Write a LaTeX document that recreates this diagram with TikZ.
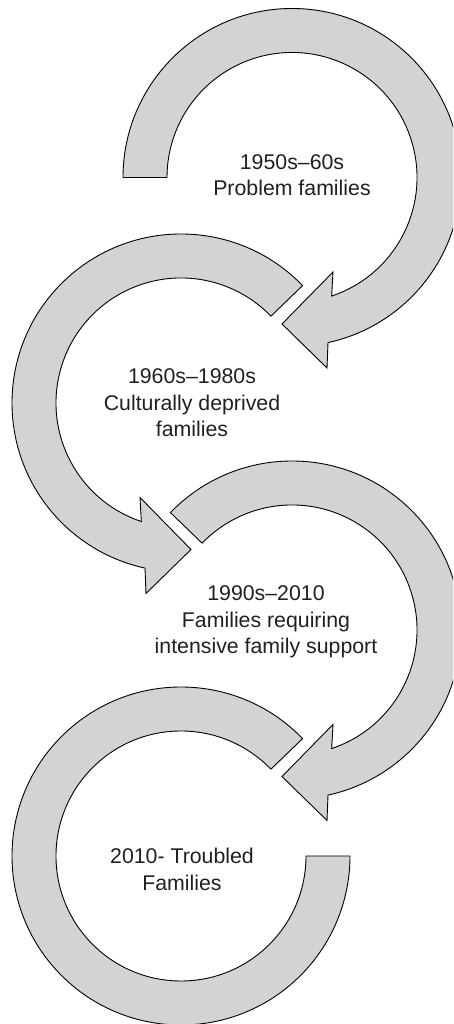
\documentclass[tikz,border=0pt]{standalone}
\usepackage{fontspec}
\setmainfont{Liberation Sans}
\usetikzlibrary{calc}
\definecolor{arrowfill}{RGB}{209,211,212}
\definecolor{txt}{RGB}{35,31,32}
\begin{document}
\begin{tikzpicture}[x=1pt,y=1pt,
  band/.style={fill=arrowfill,draw=black,line width=0.9pt,line join=miter},
  lbl/.style={align=center,font=\fontsize{21.3}{26.5}\selectfont,text=txt,inner sep=0pt}]
\useasboundingbox (0,0) rectangle (453,1024);
\clip (0,0) rectangle (453,1024);
\coordinate (c1) at (292,846.5);
\coordinate (c2) at (181,621);
\coordinate (c3) at (292,394);
\coordinate (c4) at (181,168);
% arc 1
\draw[band] ($(c1)+(180:169pt)$) arc[start angle=180,end angle=-77.7,radius=169pt]
  -- ($(c1)+(35,-190.5)$) -- ($(c1)+(-10,-146.5)$) -- ($(c1)+(41,-94.5)$)
  -- ($(c1)+(-71.5:125pt)$) arc[start angle=-71.5,end angle=180,radius=125pt] -- cycle;
% arc 2
\draw[band] ($(c2)+(44:169pt)$) arc[start angle=44,end angle=257.7,radius=169pt]
  -- ($(c2)+(-35,-190.5)$) -- ($(c2)+(10,-146.5)$) -- ($(c2)+(-41,-94.5)$)
  -- ($(c2)+(251.5:125pt)$) arc[start angle=251.5,end angle=44,radius=125pt] -- cycle;
% arc 3
\draw[band] ($(c3)+(136:169pt)$) arc[start angle=136,end angle=-77.7,radius=169pt]
  -- ($(c3)+(35,-190.5)$) -- ($(c3)+(-10,-146.5)$) -- ($(c3)+(41,-94.5)$)
  -- ($(c3)+(-71.5:125pt)$) arc[start angle=-71.5,end angle=136,radius=125pt] -- cycle;
% arc 4
\draw[band] ($(c4)+(44:169pt)$) arc[start angle=44,end angle=360,radius=169pt]
  -- ($(c4)+(0:125pt)$) arc[start angle=360,end angle=44,radius=125pt] -- cycle;
\node[lbl] (t1) at ($(c1)+(0,2.5)$) {1950s–60s\\Problem families};
\node[lbl] (t2) at ($(c2)+(11,0)$) {1960s–1980s\\Culturally deprived\\families};
\node[lbl] (t3) at ($(c3)+(-26,8)$) {1990s–2010\\Families requiring\\intensive family support};
\node[lbl] (t4) at ($(c4)+(1,-13.5)$) {2010- Troubled\\Families};
\end{tikzpicture}
\end{document}
